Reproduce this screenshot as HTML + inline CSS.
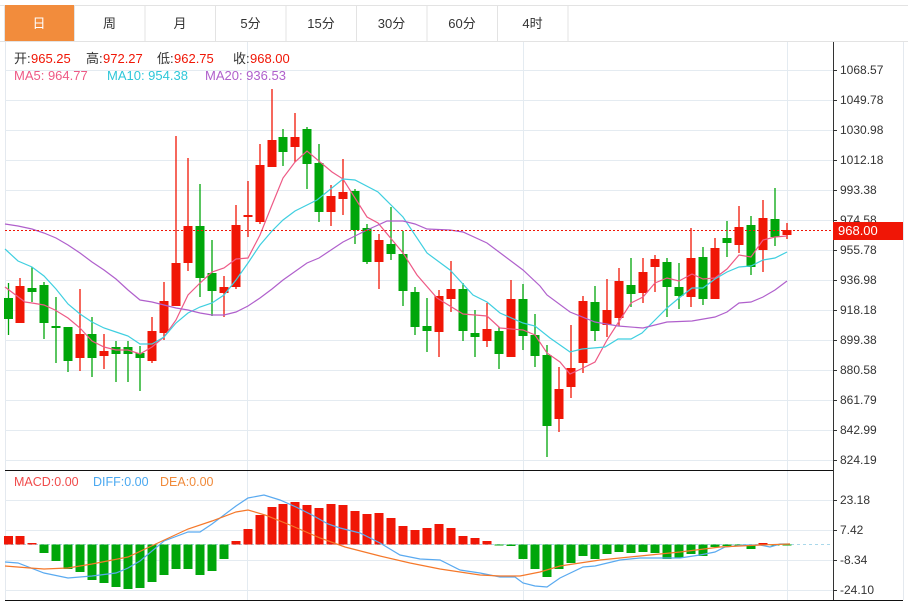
<!DOCTYPE html>
<html><head><meta charset="utf-8"><style>
body{margin:0;background:#fff;width:908px;height:602px;overflow:hidden;font-family:"Liberation Sans","Noto Sans CJK SC",sans-serif}
svg{position:absolute;left:0;top:0}
</style></head><body>
<svg id="s" width="908" height="602" xmlns="http://www.w3.org/2000/svg" font-family="Liberation Sans, Noto Sans CJK SC, sans-serif"></svg>
<script>
var S=document.getElementById('s'),h='';
function L(x1,y1,x2,y2,c,w,d){h+='<line x1="'+x1+'" y1="'+y1+'" x2="'+x2+'" y2="'+y2+'" stroke="'+c+'" stroke-width="'+(w||1)+'"'+(d?' stroke-dasharray="'+d+'"':'')+'/>';}
function R(x,y,w,hh,c,st){h+='<rect x="'+x+'" y="'+y+'" width="'+w+'" height="'+hh+'" fill="'+c+'"'+(st?' stroke="'+st+'"':'')+'/>';}
function T(x,y,t,c,s,a){h+='<text x="'+x+'" y="'+y+'" fill="'+c+'" font-size="'+(s||12)+'"'+(a?' text-anchor="'+a+'"':'')+'>'+t+'</text>';}
function P(pts,c){h+='<polyline fill="none" stroke="'+c+'" stroke-width="1.2" points="'+pts.map(function(p){return p.join(',')}).join(' ')+'"/>';}
var tabs=['日','周','月','5分','15分','30分','60分','4时'];
L(0,5.5,908,5.5,'#e3e3e3');L(0,41.5,908,41.5,'#e3e3e3');
for(var i=0;i<8;i++){var x=4+i*70.5;
 if(i==0)R(x,5,70,36,'#f28c3c');
 L(x+70.5,5,x+70.5,41,'#e3e3e3');
 T(x+35,28,tabs[i],i==0?'#fff':'#333',13,'middle');}
L(4.5,5,4.5,41,'#e3e3e3');
var gy=[70,100,130,160,190,220,250,280,310,340,370,400,430,460];
var lab=['1068.57','1049.78','1030.98','1012.18','993.38','974.58','955.78','936.98','918.18','899.38','880.58','861.79','842.99','824.19'];
L(5.5,42,5.5,600,'#e4e9ef');L(903.5,42,903.5,600,'#e4e9ef');
gy.forEach(function(y,i){L(5,y+0.5,833,y+0.5,'#e4ebf1');L(833,y+0.5,837,y+0.5,'#333');T(840,y+4,lab[i],'#333',12);});
[247,523,787].forEach(function(x){L(x+0.5,42,x+0.5,600,'#e4ebf1');});
L(833.5,42,833.5,600,'#333');
L(5,470.5,833,470.5,'#111');L(5,600.5,903,600.5,'#111');
[[500,'23.18'],[530,'7.42'],[560,'-8.34'],[590,'-24.10']].forEach(function(a){L(5,a[0]+0.5,833,a[0]+0.5,'#e4ebf1');L(833,a[0]+0.5,837,a[0]+0.5,'#333');T(840,a[0]+4,a[1],'#333',12);});
L(5,544.5,833,544.5,'#a9d8ea',1,'3,3');
var C=[[8.5,298,319,283,335,'g'],[20,286,323,278,323,'r'],[32,288,292,267,302,'g'],[44,285,323,282,339,'g'],[56,326,328,297,363,'g'],[68,327,361,327,372,'g'],[80,334,358,289,371,'r'],[92,334,358,317,377,'g'],[104,351,356,334,369,'r'],[116,347,354,341,382,'g'],[128,347,354,341,382,'g'],[140,353,358,346,391,'g'],[152,331,361,317,363,'r'],[164,301,333,282,340,'r'],[176,263,306,136,306,'r'],[188,226,263,158,271,'r'],[200,226,278,184,297,'g'],[212,273,291,240,316,'g'],[224,287,293,276,317,'r'],[236,225,287,205,289,'r'],[248,215,217,181,237,'r'],[260,165,222,144,224,'r'],[272,140,167,89,167,'r'],
[283,137,152,129,166,'g'],[295,137,147,113,162,'r'],[307,129,164,127,189,'g'],[319,163,212,144,222,'g'],[331,196,212,185,226,'r'],[343,192,199,159,215,'r'],[355,191,230,189,244,'g'],[367,228,262,224,264,'g'],[379,240,262,234,289,'r'],[391,244,254,207,260,'g'],[403,254,291,231,306,'g'],[415,292,327,287,335,'g'],[427,326,331,298,352,'g'],[439,296,332,290,357,'r'],[451,289,299,261,312,'r'],[463,289,331,283,341,'g'],[475,333,337,310,357,'g'],[487,329,341,303,347,'r'],[499,331,354,327,369,'g'],[511,299,357,280,357,'r'],[523,299,336,284,350,'g'],[535,335,356,314,367,'g'],[547,355,426,345,457,'g'],
[559,389,419,367,432,'r'],[571,368,387,325,398,'r'],[583,301,363,296,373,'r'],[595,302,331,286,341,'g'],[607,310,325,279,337,'r'],[619,281,318,268,326,'r'],[631,285,294,258,307,'g'],[643,272,293,258,303,'r'],[655,259,267,255,292,'r'],[667,262,287,258,317,'g'],[679,287,296,263,309,'g'],[691,258,297,228,307,'r'],[703,257,299,247,305,'g'],[715,248,299,238,299,'r'],[727,238,243,221,257,'g'],[739,227,245,206,253,'r'],[751,225,267,216,275,'g'],[763,218,250,200,272,'r'],[775,219,237,188,246,'g'],[787,230,235,223,239,'r']];
C.forEach(function(c){var col=c[5]=='r'?'#f01606':'#00a60a';L(c[0],c[3],c[0],c[4],col,1.3);R(c[0]-4.5,c[1],9,Math.max(1.5,c[2]-c[1]),col);});
P([[5,287],[25,302],[32,303],[44,305],[55,310],[68,318],[80,328],[92,341],[104,347],[116,350],[128,350],[140,354],[152,347],[164,337],[176,320],[188,295],[200,283],[212,272],[224,268],[236,259],[248,258],[260,235],[272,205],[283,178],[295,162],[307,151],[332,172],[343,179],[367,217],[378,223],[403,253],[417,275],[437,298],[463,314],[487,316],[500,328],[523,330],[535,335],[547,353],[560,362],[570,374],[583,368],[595,362],[607,340],[618,323],[631,303],[643,297],[655,283],[667,278],[679,281],[692,274],[703,279],[715,278],[727,269],[739,255],[751,257],[763,240],[775,237],[787,236]],'#ee5a86');
P([[5,249],[18,261],[32,267],[44,276],[56,289],[68,304],[80,314],[92,322],[104,328],[116,332],[128,336],[140,344],[152,344],[164,337],[176,323],[188,313],[200,307],[212,303],[224,295],[236,280],[248,263],[260,245],[272,231],[283,220],[295,211],[317,200],[343,179],[355,180],[378,192],[403,217],[427,253],[450,270],[473,295],[487,302],[500,313],[523,323],[535,326],[550,338],[570,352],[582,349],[605,347],[618,339],[631,339],[642,333],[655,320],[667,308],[679,298],[692,288],[703,288],[715,279],[727,272],[739,267],[751,266],[763,260],[775,258],[787,252]],'#3fcfe0');
P([[5,224],[18,226],[32,229],[44,233],[56,238],[68,245],[80,253],[92,262],[104,270],[116,279],[128,290],[140,300],[152,302],[164,305],[176,308],[188,310],[200,313],[212,315],[224,315],[236,312],[248,306],[260,298],[272,289],[283,280],[307,263],[319,258],[343,242],[367,230],[387,221],[403,221],[415,224],[427,229],[450,230],[463,232],[487,243],[503,255],[523,270],[540,286],[547,295],[570,312],[595,322],[618,326],[643,328],[655,325],[667,322],[692,321],[715,317],[727,312],[739,303],[751,302],[763,297],[775,290],[787,281]],'#b060cc');
L(5,230.5,833,230.5,'#f01606',1,'2,2');
R(833,222,70,18,'#f01606');T(838,235,'968.00','#fff',13);
// legends with explicit positions
T(14,63,'开:','#333',13);T(31,63,'965.25','#f01606',13);
T(86,63,'高:','#333',13);T(103,63,'972.27','#f01606',13);
T(157,63,'低:','#333',13);T(174,63,'962.75','#f01606',13);
T(233,63,'收:','#333',13);T(250,63,'968.00','#f01606',13);
T(14,80,'MA5: 964.77','#ee5a86',13);T(107,80,'MA10: 954.38','#2ec7d9',13);T(205,80,'MA20: 936.53','#b060cc',13);
T(14,486,'MACD:0.00','#f04a4a',12.5);T(93,486,'DIFF:0.00','#4aa8f0',12.5);T(160,486,'DEA:0.00','#f08a3a',12.5);
var M=[[8.5,536],[20,536],[32,543],[44,553],[56,561],[68,569],[80,572],[92,580],[104,583],[116,587],[128,589],[140,588],[152,582],[164,575],[176,569],[188,569],[200,575],[212,571],[224,559],[236,541],[248,529],[260,515],[272,507],[283,504],[295,502],[307,505],[319,508],[331,504],[343,505],[355,511],[367,514],[379,513],[391,518],[403,526],[415,530],[427,528],[439,524],[451,528],[463,536],[475,538],[487,541],[499,545.5],[511,546],[523,559],[535,569],[547,577],[559,569],[571,563],[583,556],[595,559],[607,554],[619,552],[631,553],[643,552],[655,553],[667,559],[679,558],[691,554],[703,556],[715,547],[727,546],[739,545],[751,549],[763,543],[775,545],[787,544.5]];
M.forEach(function(m){var z=544.5;if(m[1]<z)R(m[0]-4.5,m[1],9,z-m[1],'#f01606');else R(m[0]-4.5,z,9,Math.max(1,m[1]-z),'#00a60a');});
P([[5,562],[18,563],[44,573],[68,578],[92,576],[116,573],[128,568],[140,561],[164,541],[188,532],[200,532],[212,524],[236,506],[248,498],[264,495],[280,500],[296,507],[312,515],[328,524],[340,528],[360,533],[380,543],[400,555],[420,559],[440,560],[460,570],[480,573],[500,577],[515,577],[523,583],[535,586],[547,587],[560,578],[583,567],[595,566],[620,560],[640,558],[680,558],[700,555],[715,552],[725,547],[745,545],[760,545],[770,547],[780,544],[790,544]],'#5aaaf0');
P([[5,566],[30,568],[44,569],[68,568],[92,564],[128,557],[160,542],[188,529],[212,521],[236,512],[248,510],[265,515],[290,525],[320,538],[345,547],[380,556],[410,563],[440,569],[480,575],[500,576],[520,576],[540,572],[560,566],[600,560],[640,556],[680,552],[720,547],[760,545],[790,544]],'#f5782a');
S.innerHTML=h;
</script>
</body></html>
